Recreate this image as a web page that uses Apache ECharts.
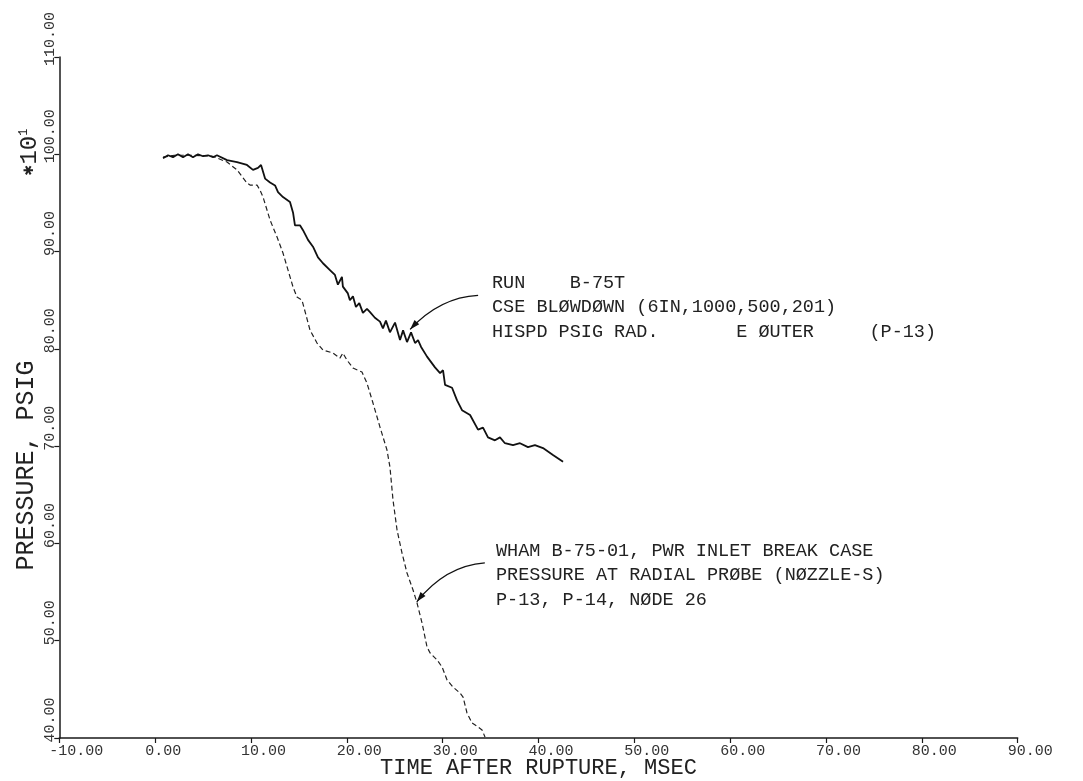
<!DOCTYPE html>
<html><head><meta charset="utf-8">
<script src="https://cdn.jsdelivr.net/npm/echarts@6/dist/echarts.min.js"></script>
<style>html,body{margin:0;padding:0;background:#fff}#c{width:1083px;height:781px}</style>
</head><body><div id="c"></div>
<script>
// ---- data (time in msec, pressure in psig x 10) ----
const xAxisName = 'TIME AFTER RUPTURE, MSEC';
const yAxisName = 'PRESSURE, PSIG';
const yScaleNote = '*10';
const yScaleExp = '1';

const cseBlowdown = [
  [0.82,99.6],[1.34,99.9],[1.86,99.7],[2.38,100.0],[2.91,99.7],[3.43,100.0],[3.95,99.7],[4.47,100.0],
  [5.0,99.8],[5.52,99.9],[6.04,99.7],[6.45,99.9],[7.5,99.4],[8.54,99.2],[9.58,98.9],[10.21,98.4],
  [10.73,98.6],[11.05,98.9],[11.47,97.5],[11.99,97.1],[12.51,96.8],[12.82,96.1],[13.34,95.6],
  [14.07,95.1],[14.39,94.0],[14.59,92.7],[15.11,92.7],[15.43,92.2],[15.95,91.2],[16.47,90.5],
  [16.99,89.4],[17.51,88.8],[18.24,88.1],[18.76,87.6],[19.07,86.6],[19.49,87.4],[19.59,86.4],
  [20.11,85.7],[20.32,85.0],[20.64,85.4],[20.95,84.3],[21.3,84.7],[21.68,83.7],[22.1,84.1],
  [22.4,83.8],[22.93,83.2],[23.46,82.8],[23.77,82.1],[24.08,82.9],[24.5,81.7],[25.03,82.7],
  [25.55,80.9],[25.87,81.9],[26.28,80.7],[26.7,81.7],[27.12,80.6],[27.43,80.9],[27.75,80.2],
  [28.37,79.2],[29.2,78.1],[29.73,77.5],[30.04,77.8],[30.25,76.3],[30.98,76.0],[31.5,74.7],
  [32.02,73.7],[32.86,73.2],[33.69,71.7],[34.21,71.9],[34.73,70.9],[35.46,70.6],[35.98,70.9],
  [36.5,70.3],[37.34,70.1],[38.07,70.3],[38.9,69.9],[39.63,70.1],[40.47,69.8],[41.51,69.1],[42.56,68.4]
];

const whamCalc = [
  [0.82,99.7],[2.0,99.9],[4.0,99.9],[6.0,99.8],[7.5,99.2],[8.54,98.4],[9.58,97.05],[9.9,96.84],
  [10.63,96.84],[10.94,96.32],[11.26,95.6],[11.99,93.24],[12.72,91.49],[13.34,89.85],[14.39,86.35],
  [14.8,85.32],[15.32,85.02],[16.16,81.93],[16.89,80.6],[17.51,79.88],[18.56,79.57],[19.28,79.05],
  [19.59,79.57],[20.01,78.85],[20.64,78.03],[21.58,77.62],[22.1,76.49],[22.73,74.43],[23.46,71.96],
  [24.19,69.6],[24.5,67.85],[24.82,64.46],[25.24,61.38],[25.76,59.01],[26.28,56.96],[26.91,55.21],
  [27.33,53.87],[27.85,51.82],[28.37,49.35],[28.69,48.74],[29.42,48.02],[29.94,47.3],[30.46,45.96],
  [31.08,45.24],[31.81,44.62],[32.13,44.21],[32.54,42.57],[33.07,41.54],[33.69,41.13],[34.11,40.82],[34.42,40.1]
];

const note1Lines = ['RUN    B-75T', 'CSE BLØWDØWN (6IN,1000,500,201)', 'HISPD PSIG RAD.       E ØUTER     (P-13)'];
const note2Lines = ['WHAM B-75-01, PWR INLET BREAK CASE', 'PRESSURE AT RADIAL PRØBE (NØZZLE-S)', 'P-13, P-14, NØDE 26'];

// arrows in data units: tail, control, tip
const arrow1 = [[33.7,85.5],[29.7,85.3],[26.6,82.0]];
const arrow2 = [[34.4,58.0],[30.3,57.7],[27.3,54.0]];

// ---- chart ----
const FONT = 'Liberation Mono';
const INK = '#1a1a1a';
const chart = echarts.init(document.getElementById('c'), null, {renderer: 'canvas'});

const option = {
  animation: false,
  backgroundColor: '#fff',
  grid: {left: 59.3, right: 65.3, top: 57, bottom: 43, containLabel: false, outerBoundsMode: 'none'},
  xAxis: {
    type: 'value', min: -10, max: 90, interval: 10,
    name: xAxisName, nameLocation: 'middle', nameGap: 19, nameMoveOverlap: false,
    nameTextStyle: {fontFamily: FONT, fontSize: 22, color: '#222'},
    axisLine: {onZero: false, lineStyle: {color: INK, width: 1.5}},
    axisTick: {length: 5, lineStyle: {color: INK, width: 1.2}},
    splitLine: {show: false},
    axisLabel: {formatter: v => v.toFixed(2), fontFamily: FONT, fontSize: 15, color: '#333',
      margin: 6, align: 'left', padding: [0, 0, 0, -10], showMinLabel: true, showMaxLabel: true}
  },
  yAxis: {
    type: 'value', min: 40, max: 110, interval: 10,
    name: yAxisName, nameLocation: 'middle', nameGap: 20, nameMoveOverlap: false,
    nameTextStyle: {fontFamily: FONT, fontSize: 25, color: '#222', padding: [0, 136, 0, 0]},
    axisLine: {show: true, onZero: false, lineStyle: {color: INK, width: 1.5}},
    axisTick: {show: true, length: 5, lineStyle: {color: INK, width: 1.2}},
    splitLine: {show: false},
    axisLabel: {formatter: v => v.toFixed(2), rotate: 90, fontFamily: FONT, fontSize: 15, color: '#333',
      margin: 2, padding: [0, 0, 0, 36], showMinLabel: true, showMaxLabel: true}
  },
  series: [
    {type: 'line', data: cseBlowdown, showSymbol: false, smooth: false,
      lineStyle: {color: '#111', width: 1.8}, z: 3},
    {type: 'line', data: whamCalc, showSymbol: false, smooth: false,
      lineStyle: {color: '#222', width: 1.2, type: [5, 3]}, z: 2}
  ]
};
chart.setOption(option);

function arrowGraphics(a) {
  const p = a.map(d => chart.convertToPixel({gridIndex: 0}, d));
  const [t, c, h] = p;
  const ang = Math.atan2(h[1] - c[1], h[0] - c[0]);
  const L = 10, W = 3.2;
  const bx = h[0] - L * Math.cos(ang), by = h[1] - L * Math.sin(ang);
  const nx = -Math.sin(ang) * W, ny = Math.cos(ang) * W;
  return [
    {type: 'bezierCurve', shape: {x1: t[0], y1: t[1], x2: h[0], y2: h[1], cpx1: c[0], cpy1: c[1]},
      style: {stroke: '#111', lineWidth: 1.2, fill: null}, z: 10},
    {type: 'polygon', shape: {points: [[h[0], h[1]], [bx + nx, by + ny], [bx - nx, by - ny]]},
      style: {fill: '#111'}, z: 10}
  ];
}

function textLines(lines, x, y0, dy, size) {
  return lines.map((s, i) => ({
    type: 'text', x: x, y: y0 + i * dy, z: 10,
    style: {text: s, font: size + 'px "' + FONT + '"', fill: '#222', align: 'left', verticalAlign: 'middle'}
  }));
}

const graphics = []
  .concat(arrowGraphics(arrow1))
  .concat(arrowGraphics(arrow2))
  .concat(textLines(note1Lines, 492, 283, 24.5, 18.5))
  .concat(textLines(note2Lines, 496, 551, 24.5, 18.5))
  .concat([{
    type: 'text', x: 30, y: 152, rotation: Math.PI / 2, z: 10,
    style: {
      text: '{st|✱}{a|' + yScaleNote.slice(1) + '}{s|' + yScaleExp + '}',
      align: 'center', verticalAlign: 'middle', fill: '#222',
      rich: {
        st: {fontFamily: 'DejaVu Sans', fontSize: 13, fill: '#222', verticalAlign: 'middle'},
        a: {fontFamily: FONT, fontSize: 24, fill: '#222'},
        s: {fontFamily: FONT, fontSize: 12, fill: '#222', verticalAlign: 'top', padding: [0, 0, 10, 0]}
      }
    }
  }]);

chart.setOption({graphic: graphics});
</script></body></html>
